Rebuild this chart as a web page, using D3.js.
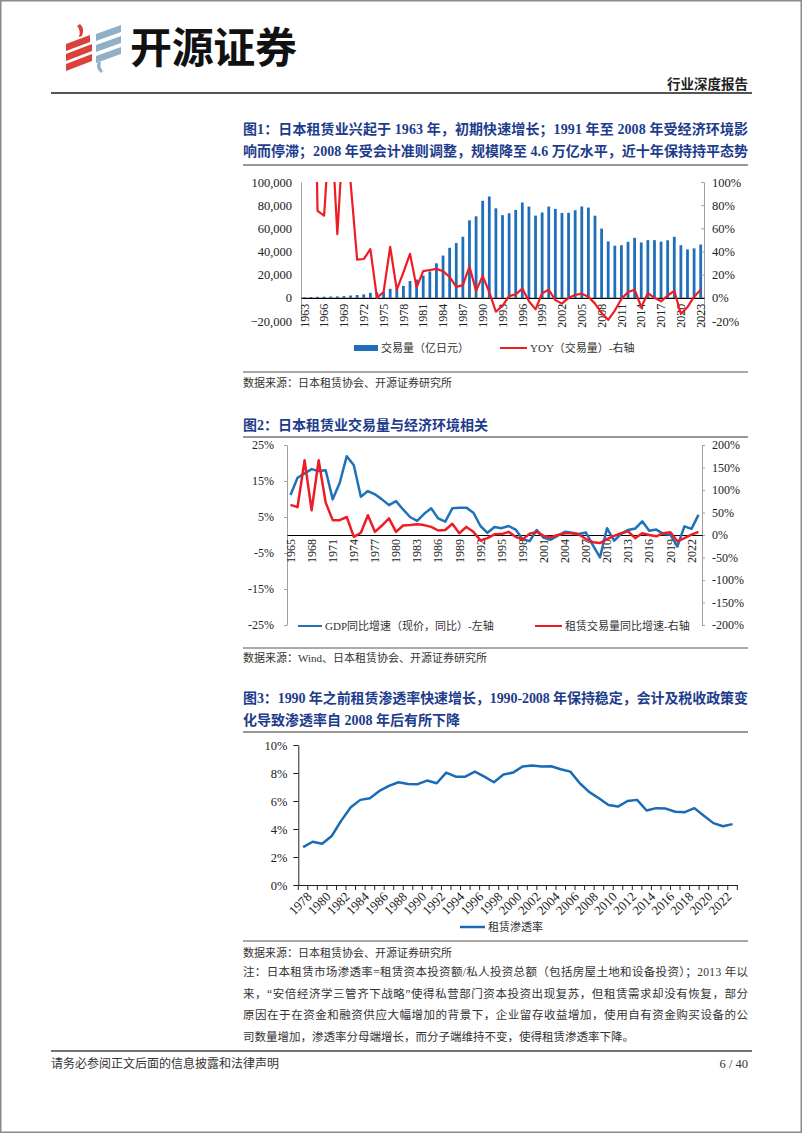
<!DOCTYPE html>
<html><head><meta charset="utf-8">
<script src="https://cdn.jsdelivr.net/npm/d3@7"></script>
<style>
body{margin:0;background:#fff}
svg{display:block}
text{font-family:"Liberation Serif","Noto Sans CJK SC",serif}
</style>
</head><body>
<svg id="c" width="802" height="1133"></svg>
<script>
// ---------- DATA ----------
const years1 = d3.range(1963, 2024);
const volume1 = [500,700,900,1000,1100,1200,1500,2000,2400,3000,
  4300,4600,5000,7800,8200,10300,14500,15800,19300,22800,
  29800,36500,43200,47300,52700,66900,70400,83800,87500,77300,
  71400,73000,75900,82300,78800,71000,73700,78800,76800,73300,
  73400,75600,78900,77900,70900,59800,48700,45000,45400,48400,
  51800,47800,49800,49800,48500,49700,52700,45400,41800,42700,
  46000];
const yoy1 = [null,400,75,71,160,55,150,100,33,33.5,
  42,0,5,44,7,22,38,9,23,24,
  25,23,18,9.5,11,27,6,19,5,-12,
  -7,1.5,3,8,-3,-10,4,7,-2,-5,
  0,2.5,3.5,1,-5,-13,-19,-11,-1,5,
  7,-8,4,0,-3,2,6,-14,-8,1,
  7];
const x1Ticks = [1963,1966,1969,1972,1975,1978,1981,1984,1987,1990,1993,1996,1999,2002,2005,2008,2011,2014,2017,2020,2023];
const y1LeftTicks = [-20000,0,20000,40000,60000,80000,100000];
const y1RightTicks = [-20,0,20,40,60,80,100];

const years2 = d3.range(1965, 2024);
const gdp2 = [11.1,15.9,17.1,18.3,17.8,18.0,9.9,14.5,21.9,19.4,
  10.6,12.2,11.3,9.9,8.3,9.4,7.1,5.0,3.9,5.9,
  7.4,4.6,3.7,7.4,7.6,7.6,6.2,2.5,0.6,2.2,
  1.9,2.5,1.5,-1.2,-1.7,1.4,-0.8,-1.3,-0.2,0.9,
  0.6,0.3,0.7,-2.9,-6.2,1.9,-1.6,0.3,1.4,1.8,
  3.8,1.2,1.5,0.3,0.1,-3.2,2.4,1.7,5.6];
const lease2 = [67,62,166,55,166,72,33,33,40,-4,
  5,44,7,21,37,7,21,22,24,22,
  18,10,11,25,4,18,7,-12,-7,1.5,
  2,7,-4,-10,3,7,-2,-5,0,4,
  4,1,-9,-16,-18,-9,-2,4,8,-7,
  4,0,-3,4,6,-14,-7,1,7];
const x2Ticks = [1965,1968,1971,1974,1977,1980,1983,1986,1989,1992,1995,1998,2001,2004,2007,2010,2013,2016,2019,2022];
const y2LeftTicks = [-25,-15,-5,5,15,25];
const y2RightTicks = [-200,-150,-100,-50,0,50,100,150,200];

const years3 = d3.range(1978, 2024);
const pen3 = [2.71,3.09,2.95,3.5,4.6,5.56,6.08,6.2,6.72,7.08,
  7.34,7.22,7.2,7.46,7.27,8.03,7.74,7.74,8.1,7.74,
  7.34,7.89,8.03,8.46,8.53,8.46,8.48,8.27,8.1,7.27,
  6.63,6.2,5.72,5.6,6.0,6.08,5.32,5.49,5.46,5.23,
  5.2,5.49,4.94,4.42,4.2,4.35];
const x3Ticks = [1978,1980,1982,1984,1986,1988,1990,1992,1994,1996,1998,2000,2002,2004,2006,2008,2010,2012,2014,2016,2018,2020,2022];
const y3Ticks = [0,2,4,6,8,10];

// ---------- STYLE ----------
const BLUE = "#1e6eb9", RED = "#ee1c25", TITLE = "#1e3c8c", CJK = "'Noto Sans CJK SC',sans-serif";
const svg = d3.select("#c");

// page frame
svg.append("rect").attr("x",0.75).attr("y",0.75).attr("width",800.5).attr("height",1131.5)
  .attr("fill","none").attr("stroke","#8a8a8a").attr("stroke-width",1.5);

// ---------- HEADER ----------
const logo = svg.append("g");
const redP = [[[66,44],[90,35],[90,42],[66,51]],[[66,54],[92,44],[92,51],[66,61]],[[66,64],[92,54],[92,61],[66,71]]];
const bluP = [[[96,34],[121,25],[121,32],[96,41]],[[96,45],[121,36],[121,43],[96,52]],[[96,56],[121,47],[121,54],[96,63]]];
redP.forEach(p=>logo.append("polygon").attr("points",p.join(" ")).attr("fill","#d9413a"));
bluP.forEach(p=>logo.append("polygon").attr("points",p.join(" ")).attr("fill","#8fb0c6"));
logo.append("path").attr("d","M80,24 Q85,28 82,36 L79,37 Q81,30 77,26 Z").attr("fill","#d9413a");
logo.append("path").attr("d","M98,62 Q95,68 101,73 L103,71 Q99,67 101,62 Z").attr("fill","#8fb0c6");
svg.append("text").attr("x",130).attr("y",63).attr("font-size",42).attr("font-weight",700)
  .style("font-family",CJK).attr("fill","#111").attr("textLength",167).text("开源证券");
svg.append("text").attr("x",748).attr("y",89).attr("text-anchor","end").attr("font-size",13.5)
  .attr("font-weight",700).style("font-family",CJK).attr("fill","#222").text("行业深度报告");
svg.append("line").attr("x1",51).attr("x2",752).attr("y1",93).attr("y2",93).attr("stroke","#555").attr("stroke-width",2);

function title(lines, ys, full){
  lines.forEach((t,i)=>{
    const el = svg.append("text").attr("x",243).attr("y",ys[i]).attr("font-size",14).attr("font-weight",700)
      .attr("fill",TITLE).text(t);
    if(full[i]) el.attr("textLength",505).attr("lengthAdjust","spacing");
  });
}
function rule(y,color,w){ svg.append("line").attr("x1",243).attr("x2",748).attr("y1",y).attr("y2",y).attr("stroke",color).attr("stroke-width",w); }
function smallText(t,x,y,size,anchor){ return svg.append("text").attr("x",x).attr("y",y).attr("font-size",size||11)
  .attr("fill","#333").attr("text-anchor",anchor||"start").text(t); }

// ---------- CHART 1 ----------
title(["图1：日本租赁业兴起于 1963 年，初期快速增长；1991 年至 2008 年受经济环境影",
       "响而停滞；2008 年受会计准则调整，规模降至 4.6 万亿水平，近十年保持持平态势"],[134,156],[true,true]);
rule(165,"#333",1);
{
  const x = d3.scaleBand().domain(years1).range([301,704]).paddingInner(0.58).paddingOuter(0.29);
  const yL = d3.scaleLinear().domain([-20000,100000]).range([321,182]);
  const yR = d3.scaleLinear().domain([-20,100]).range([321,182]);
  const g = svg.append("g");
  g.append("defs").append("clipPath").attr("id","clip1").append("rect")
    .attr("x",301).attr("y",182).attr("width",403).attr("height",139);
  g.selectAll("rect.bar").data(years1).join("rect").attr("class","bar")
    .attr("x",d=>x(d)).attr("width",x.bandwidth())
    .attr("y",(d,i)=>yL(Math.max(0,volume1[i]))).attr("height",(d,i)=>Math.abs(yL(volume1[i])-yL(0)))
    .attr("fill",BLUE);
  // axes
  const aL = g.append("g").attr("transform","translate(301,0)")
    .call(d3.axisLeft(yL).tickValues(y1LeftTicks).tickFormat(d3.format(",")).tickSize(0).tickPadding(9));
  aL.select(".domain").attr("stroke","#a0a0a0");
  const aR = g.append("g").attr("transform","translate(704,0)")
    .call(d3.axisRight(yR).tickValues(y1RightTicks).tickFormat(d=>d+"%").tickSizeInner(-3).tickSizeOuter(0).tickPadding(8));
  aR.select(".domain").attr("stroke","#a0a0a0");
  aR.selectAll(".tick line").attr("stroke","#a0a0a0");
  [aL,aR].forEach(a=>a.selectAll("text").attr("font-size",12.5).attr("fill","#222").style("font-family","'Liberation Serif',serif"));
  const aB = g.append("g").attr("transform",`translate(0,${yL(0)})`)
    .call(d3.axisBottom(x).tickValues(x1Ticks).tickSize(0));
  aB.select(".domain").attr("stroke","#000").attr("stroke-width",1.2);
  aB.selectAll("text").attr("font-size",12).attr("fill","#222").style("font-family","'Liberation Serif',serif")
    .attr("text-anchor","end").attr("transform","translate(0,6) rotate(-90)").attr("x",0).attr("y",0).attr("dy","0.35em");
  // line
  const line = d3.line().defined(d=>d[1]!==null).x(d=>x(d[0])+x.bandwidth()/2).y(d=>yR(d[1]));
  g.append("path").datum(years1.map((d,i)=>[d,yoy1[i]])).attr("clip-path","url(#clip1)")
    .attr("d",line).attr("fill","none").attr("stroke",RED).attr("stroke-width",2.2).attr("stroke-linejoin","round");
  // legend
  g.append("rect").attr("x",354).attr("y",345).attr("width",24).attr("height",6).attr("fill",BLUE);
  smallText("交易量（亿日元）",381,352,11);
  g.append("line").attr("x1",500).attr("x2",527).attr("y1",348).attr("y2",348).attr("stroke",RED).attr("stroke-width",2);
  smallText("YOY（交易量）-右轴",530,352,11);
}
rule(372,"#8c8c8c",1.5);
smallText("数据来源：日本租赁协会、开源证券研究所",243,387,11);

// ---------- CHART 2 ----------
title(["图2：日本租赁业交易量与经济环境相关"],[430],[false]);
rule(437,"#333",1);
{
  const x = d3.scaleBand().domain(years2).range([287,702]);
  const yL = d3.scaleLinear().domain([-25,25]).range([625,445]);
  const yR = d3.scaleLinear().domain([-200,200]).range([625,445]);
  const g = svg.append("g");
  const aL = g.append("g").attr("transform","translate(287,0)")
    .call(d3.axisLeft(yL).tickValues(y2LeftTicks).tickFormat(d=>d+"%").tickSizeInner(3).tickSizeOuter(0).tickPadding(10));
  const aR = g.append("g").attr("transform","translate(702,0)")
    .call(d3.axisRight(yR).tickValues(y2RightTicks).tickFormat(d=>d+"%").tickSizeInner(3).tickSizeOuter(0).tickPadding(7));
  [aL,aR].forEach(a=>{a.select(".domain").attr("stroke","#a0a0a0"); a.selectAll(".tick line").attr("stroke","#a0a0a0");
    a.selectAll("text").attr("font-size",12).attr("fill","#222").style("font-family","'Liberation Serif',serif");});
  const aB = g.append("g").attr("transform",`translate(0,${yL(0)})`)
    .call(d3.axisBottom(x).tickValues(x2Ticks).tickSize(0));
  aB.select(".domain").attr("stroke","#000").attr("stroke-width",1.2);
  aB.selectAll("text").attr("font-size",12).attr("fill","#222").style("font-family","'Liberation Serif',serif")
    .attr("text-anchor","end").attr("transform","translate(0,4) rotate(-90)").attr("x",0).attr("y",0).attr("dy","0.35em");
  const cx = d=>x(d)+x.bandwidth()/2;
  g.append("path").datum(years2.map((d,i)=>[d,gdp2[i]]))
    .attr("d",d3.line().x(d=>cx(d[0])).y(d=>yL(d[1]))).attr("fill","none").attr("stroke","#1f72b8").attr("stroke-width",2.5).attr("stroke-linejoin","round");
  g.append("path").datum(years2.map((d,i)=>[d,lease2[i]]))
    .attr("d",d3.line().x(d=>cx(d[0])).y(d=>yR(d[1]))).attr("fill","none").attr("stroke",RED).attr("stroke-width",2.5).attr("stroke-linejoin","round");
  g.append("line").attr("x1",298).attr("x2",322).attr("y1",626).attr("y2",626).attr("stroke","#1f72b8").attr("stroke-width",2);
  smallText("GDP同比增速（现价，同比）-左轴",325,630,11);
  g.append("line").attr("x1",535).attr("x2",562).attr("y1",626).attr("y2",626).attr("stroke",RED).attr("stroke-width",2);
  smallText("租赁交易量同比增速-右轴",565,630,11);
}
rule(648,"#8c8c8c",1.5);
smallText("数据来源：Wind、日本租赁协会、开源证券研究所",243,662,11);

// ---------- CHART 3 ----------
title(["图3：1990 年之前租赁渗透率快速增长，1990-2008 年保持稳定，会计及税收政策变",
       "化导致渗透率自 2008 年后有所下降"],[703,725],[true,false]);
rule(732,"#333",1);
{
  const x = d3.scaleBand().domain(years3).range([298.3,737.3]);
  const y = d3.scaleLinear().domain([0,10]).range([885,745]);
  const g = svg.append("g");
  const aL = g.append("g").attr("transform","translate(298.3,0)")
    .call(d3.axisLeft(y).tickValues(y3Ticks).tickFormat(d=>d+"%").tickSizeInner(5).tickSizeOuter(0).tickPadding(6));
  aL.selectAll("text").attr("font-size",12.5).attr("fill","#222").style("font-family","'Liberation Serif',serif");
  aL.selectAll(".tick line, .domain").attr("stroke","#222");
  const aB = g.append("g").attr("transform","translate(0,885)")
    .call(d3.axisBottom(x).tickValues(x3Ticks).tickSize(0));
  aB.select(".domain").attr("stroke","#222");
  aB.selectAll("text").attr("font-size",13).attr("fill","#222").style("font-family","'Liberation Serif',serif")
    .attr("text-anchor","end").attr("transform","translate(3,6) rotate(-45)").attr("x",0).attr("y",0).attr("dy","0.7em");
  g.selectAll("line.bt").data(years3.concat([null])).join("line").attr("class","bt")
    .attr("x1",d=>d===null? x(years3[years3.length-1])+x.bandwidth(): x(d)).attr("x2",d=>d===null? x(years3[years3.length-1])+x.bandwidth(): x(d))
    .attr("y1",885).attr("y2",890).attr("stroke","#222");
  g.append("path").datum(years3.map((d,i)=>[d,pen3[i]]))
    .attr("d",d3.line().x(d=>x(d[0])+x.bandwidth()/2).y(d=>y(d[1]))).attr("fill","none").attr("stroke","#1a6bb5").attr("stroke-width",2.5).attr("stroke-linejoin","round");
  g.append("line").attr("x1",460).attr("x2",485).attr("y1",927).attr("y2",927).attr("stroke","#1a6bb5").attr("stroke-width",2.5);
  smallText("租赁渗透率",488,931,11);
}
rule(941,"#8c8c8c",1.5);
smallText("数据来源：日本租赁协会、开源证券研究所",243,957,11);
const notes = ["注：日本租赁市场渗透率=租赁资本投资额/私人投资总额（包括房屋土地和设备投资）；2013 年以",
  "来，“安倍经济学三管齐下战略”使得私营部门资本投资出现复苏，但租赁需求却没有恢复，部分",
  "原因在于在资金和融资供应大幅增加的背景下，企业留存收益增加，使用自有资金购买设备的公",
  "司数量增加，渗透率分母端增长，而分子端维持不变，使得租赁渗透率下降。"];
notes.forEach((t,i)=>{ const el = smallText(t,243,976+i*21.7,11.5); if(i<3) el.attr("textLength",505).attr("lengthAdjust","spacing"); });

// ---------- FOOTER ----------
svg.append("line").attr("x1",51).attr("x2",752).attr("y1",1051).attr("y2",1051).attr("stroke","#444").attr("stroke-width",1.5);
smallText("请务必参阅正文后面的信息披露和法律声明",51,1068,12);
smallText("6 / 40",748,1068,12.5,"end");
</script>
</body></html>
